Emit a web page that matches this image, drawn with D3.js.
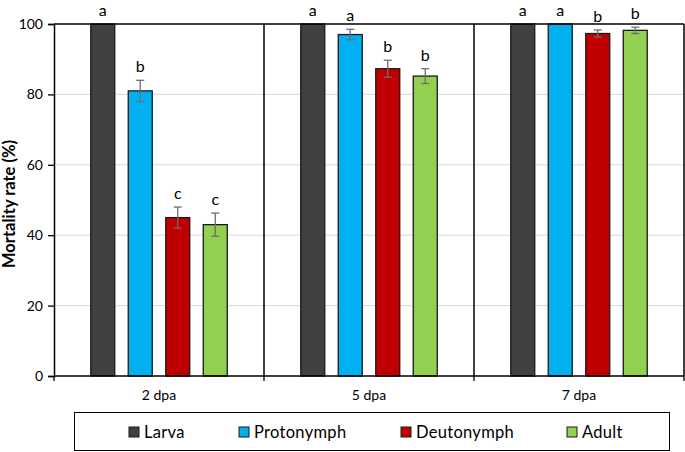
<!DOCTYPE html>
<html><head><meta charset="utf-8">
<script src="https://cdn.jsdelivr.net/npm/d3@7"></script>
<style>body{margin:0;background:#fff}svg{display:block}text{font-family:Lato,"Open Sans",sans-serif}</style>
</head><body><svg id="c" width="685" height="452"></svg>
<script>
const groups = ["2 dpa", "5 dpa", "7 dpa"];
const stages = ["Larva", "Protonymph", "Deutonymph", "Adult"];
const colors = ["#404040", "#00B0F0", "#C00000", "#92D050"];
// values[group][stage]
const values = [[100, 81, 45, 43], [100, 97, 87.3, 85.2], [100, 100, 97.3, 98.2]];
const errors = [[0, 3, 3, 3.3], [0, 1.5, 2.4, 2.1], [0, 0, 1, 0.9]];
const letters = [["a", "b", "c", "c"], ["a", "a", "b", "b"], ["a", "a", "b", "b"]];
const yTicks = [0, 20, 40, 60, 80, 100];

const svg = d3.select("#c");
const L = 54, R = 684, T = 24, B = 376;
const x0 = d3.scaleBand().domain(groups).range([L, R]);
const x1 = d3.scaleBand().domain(stages).range([0, x0.bandwidth()]).paddingInner(0.36).paddingOuter(0.98);
const y = d3.scaleLinear().domain([0, 100]).range([B, T]);

// gridlines
svg.append("g").selectAll("line").data(yTicks.filter(d => d > 0 && d < 100)).join("line")
  .attr("x1", L).attr("x2", R).attr("y1", d => y(d)).attr("y2", d => y(d))
  .attr("stroke", "#d9d9d9").attr("stroke-width", 1);

// bars
const gg = svg.append("g").selectAll("g").data(groups).join("g")
  .attr("transform", d => `translate(${x0(d)},0)`);
gg.each(function(g, gi) {
  const sel = d3.select(this);
  const recs = stages.map((s, si) => ({s, si, v: values[gi][si], e: errors[gi][si], l: letters[gi][si]}));
  sel.selectAll("rect").data(recs).join("rect")
    .attr("x", d => x1(d.s)).attr("width", x1.bandwidth())
    .attr("y", d => y(d.v)).attr("height", d => y(0) - y(d.v))
    .attr("fill", d => colors[d.si]).attr("stroke", "#1a1a1a").attr("stroke-width", 1.3);
  const eb = sel.selectAll("g.eb").data(recs.filter(d => d.e > 0)).join("g").attr("class", "eb")
    .attr("stroke", "#6e6e6e").attr("stroke-width", 1.3);
  const cx = d => x1(d.s) + x1.bandwidth() / 2;
  eb.append("line").attr("x1", cx).attr("x2", cx)
    .attr("y1", d => y(d.v + d.e)).attr("y2", d => y(d.v - d.e));
  eb.append("line").attr("x1", d => cx(d) - 4).attr("x2", d => cx(d) + 4)
    .attr("y1", d => y(d.v + d.e)).attr("y2", d => y(d.v + d.e));
  eb.append("line").attr("x1", d => cx(d) - 4).attr("x2", d => cx(d) + 4)
    .attr("y1", d => y(d.v - d.e)).attr("y2", d => y(d.v - d.e));
  sel.selectAll("text.lt").data(recs).join("text").attr("class", "lt")
    .attr("x", cx)
    .attr("y", d => y(Math.min(d.v + d.e, 100)) - 8)
    .attr("text-anchor", "middle").attr("font-size", 16).attr("fill", "#000").text(d => d.l);
});

// frame: top, right, separators
svg.append("line").attr("x1", L).attr("x2", R).attr("y1", T).attr("y2", T).attr("stroke", "#000").attr("stroke-width", 1.5);
svg.append("g").selectAll("line").data(groups.slice(1)).join("line")
  .attr("x1", d => x0(d)).attr("x2", d => x0(d)).attr("y1", T).attr("y2", B).attr("stroke", "#000").attr("stroke-width", 1.5);
svg.append("line").attr("x1", R).attr("x2", R).attr("y1", T).attr("y2", B).attr("stroke", "#000").attr("stroke-width", 1.5);

// y axis
const ya = svg.append("g").attr("transform", `translate(${L},0)`)
  .call(d3.axisLeft(y).tickValues(yTicks).tickSize(6).tickPadding(5));
ya.select(".domain").attr("stroke", "#000").attr("stroke-width", 1.5);
ya.selectAll(".tick line").attr("stroke", "#000").attr("stroke-width", 1.3);
ya.selectAll(".tick text").attr("font-size", 14).attr("fill", "#000").attr("font-family", "Lato");

// x axis
const xa = svg.append("g").attr("transform", `translate(0,${B})`)
  .call(d3.axisBottom(x0).tickSize(0).tickPadding(14));
xa.select(".domain").remove();
xa.selectAll(".tick text").attr("font-size", 14).attr("fill", "#000").attr("font-family", "Lato");
svg.append("line").attr("x1", L).attr("x2", R).attr("y1", B).attr("y2", B).attr("stroke", "#000").attr("stroke-width", 1.5);
svg.append("g").selectAll("line").data([...groups.map(g => x0(g)), R]).join("line")
  .attr("x1", d => d).attr("x2", d => d).attr("y1", B).attr("y2", B + 5).attr("stroke", "#000").attr("stroke-width", 1.3);

// y title
svg.append("text").attr("transform", `translate(15,${(T + B) / 2 + 4}) rotate(-90)`)
  .attr("text-anchor", "middle").attr("font-size", 16.5).attr("font-weight", "bold").text("Mortality rate (%)");

// legend
svg.append("rect").attr("x", 74.5).attr("y", 412.5).attr("width", 595).attr("height", 38)
  .attr("fill", "#fff").attr("stroke", "#000").attr("stroke-width", 1);
const legX = [129, 239, 401, 567];
const lg = svg.append("g").selectAll("g").data(stages).join("g")
  .attr("transform", (d, i) => `translate(${legX[i]},427)`);
lg.append("rect").attr("width", 10).attr("height", 10).attr("fill", (d, i) => colors[i]).attr("stroke", "#1a1a1a").attr("stroke-width", 1);
lg.append("text").attr("x", 15).attr("y", 10.5).attr("font-size", 16.5).attr("letter-spacing", 0.3).attr("fill", "#000").text(d => d);
</script></body></html>
